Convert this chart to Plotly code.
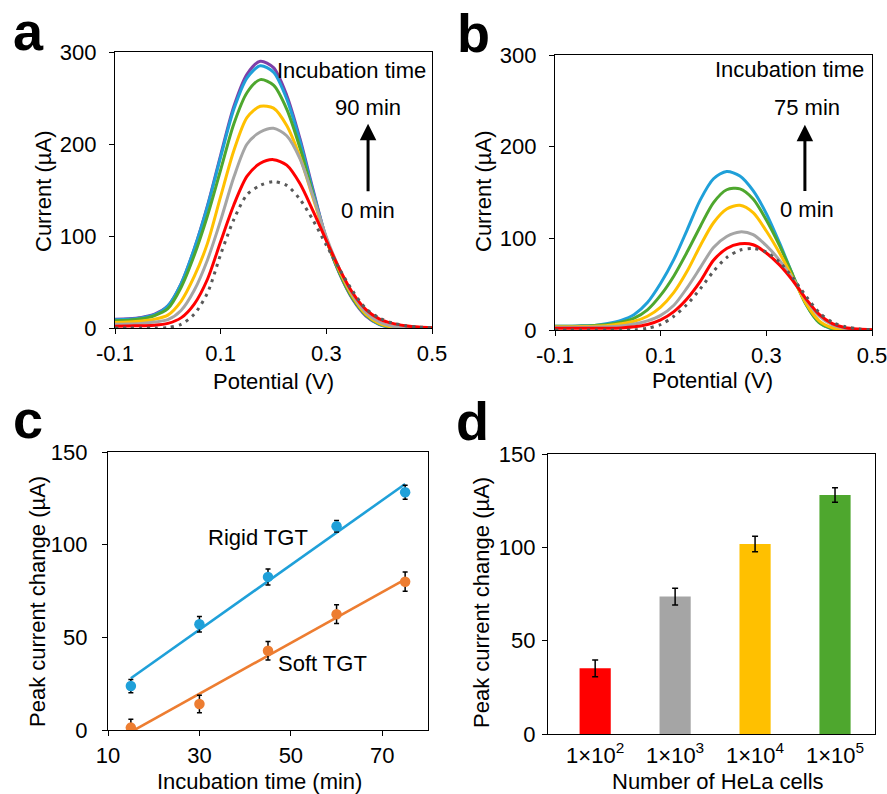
import numpy as np
import plotly.graph_objects as go

# ---------------- data ----------------
potential = [-0.1, -0.075, -0.05, -0.025, 0.0, 0.025, 0.05, 0.075, 0.1, 0.125, 0.15, 0.175,
             0.2, 0.225, 0.25, 0.275, 0.3, 0.325, 0.35, 0.375, 0.4, 0.425, 0.45, 0.475, 0.5]

# panel a (0 -> 90 min)
a_purple = [9.5, 10, 11.5, 15, 24, 48, 86, 133, 188, 241, 276, 290, 283, 253, 206, 150, 97, 59, 31, 13, 4, 0.5, 0, 0, 0]
a_blue   = [9, 9.5, 11, 14.5, 24, 48, 86, 132, 186, 238, 272, 285, 278, 249, 203, 148, 97, 60, 32, 14, 4, 0.5, 0, 0, 0]
a_green  = [8, 8.5, 10, 13.5, 21, 44, 79, 122, 172, 222, 256, 270, 264, 238, 196, 145, 96, 60, 32, 14, 4.5, 1, 0, 0, 0]
a_yellow = [6, 6.5, 7.5, 9.5, 14, 29, 56, 92, 143, 193, 229, 241, 239, 220, 186, 141, 97, 62, 34, 15, 5, 1, 0, 0, 0]
a_gray   = [4, 4.3, 5, 6.5, 9, 19, 41, 74, 117, 164, 200, 213, 217, 209, 184, 143, 99, 64, 36, 17, 6.5, 2, 0.5, 0, 0]
a_red    = [2, 2.2, 2.5, 3, 5, 11, 26, 53, 94, 134, 165, 179, 183, 177, 157, 127, 95, 64, 38, 20, 10, 5, 2.5, 1, 0.3]
a_dotted = [0, 0, 0, 0, 0.5, 4, 15, 38, 80, 118, 145, 155, 159, 155, 140, 117, 90, 64, 40, 21, 11, 5.5, 2.5, 1, 0.3]

# panel b (0 -> 75 min)
b_blue   = [4, 4, 4.5, 5, 7, 10.5, 17, 30, 51, 77, 109, 142, 165, 173, 168, 152, 127, 95, 60, 28, 8, 1, 0, 0, 0]
b_green  = [4, 4, 4.3, 5, 6, 8.5, 13, 22, 38, 59, 85, 113, 139, 153, 154, 143, 120, 92, 60, 28, 8, 1.5, 0, 0, 0]
b_yellow = [3.5, 3.5, 3.8, 4.2, 5, 6.8, 9.5, 15, 25, 41, 64, 92, 117, 132, 136, 128, 108, 84, 57, 29, 10, 2.5, 0.5, 0, 0]
b_gray   = [3, 3, 3, 3.2, 3.5, 4.5, 6.5, 10, 16, 27, 46, 68, 90, 102, 107, 104, 92, 76, 56, 33, 15, 5.5, 1.5, 0.5, 0]
b_red    = [2, 2, 2, 2, 2, 2.3, 3.5, 6, 11, 20, 34, 53, 76, 89, 94, 93, 84, 71, 54, 34, 17, 7, 2.5, 1, 0.3]
b_dotted = [0, 0, 0, 0, 0, 0, 0.3, 2, 6, 15, 28, 45, 64, 79, 87, 89, 85, 74, 57, 37, 19, 8.5, 3.5, 1.2, 0.3]

# panel c
incubation_time = [15, 30, 45, 60, 75]
rigid_change = [23.7, 57.1, 82.6, 109.9, 128.3]
rigid_err = [3.6, 4.2, 4.3, 3.1, 3.8]
soft_change = [1.3, 14.0, 42.8, 62.5, 80.0]
soft_err = [4.5, 4.7, 5.0, 5.1, 5.2]

# panel d
cell_labels = ["1×10<sup>2</sup>", "1×10<sup>3</sup>", "1×10<sup>4</sup>", "1×10<sup>5</sup>"]
cell_change = [35.2, 73.6, 101.8, 128.0]
cell_err = [4.5, 4.5, 4.2, 3.9]

# ---------------- style ----------------
W, H = 887, 794
FONT = "Liberation Sans, Arial, sans-serif"
FS = 22
C_PURPLE = "#7E3FA8"
C_BLUE = "#1FA0D9"
C_GREEN = "#4EA72E"
C_YELLOW = "#FFC000"
C_GRAY = "#A5A5A5"
C_RED = "#FF0000"
C_DOT = "#595959"
C_ORANGE = "#ED7D31"

def px(x):
    return x / W

def py(y):
    return 1 - y / H

fig = go.Figure()

def curve(x, y, color, xa, ya, dash=None):
    fig.add_trace(go.Scatter(x=x, y=y, mode="lines", xaxis=xa, yaxis=ya,
                             line=dict(color=color, width=3, shape="spline", smoothing=0.8,
                                       dash=dash if dash else "solid"),
                             hoverinfo="skip", showlegend=False))

for ys, c in [(a_purple, C_PURPLE), (a_blue, C_BLUE), (a_green, C_GREEN), (a_yellow, C_YELLOW),
              (a_gray, C_GRAY), (a_red, C_RED)]:
    curve(potential, ys, c, "x", "y")
curve(potential, a_dotted, C_DOT, "x", "y", dash="3px,5px")

for ys, c in [(b_blue, C_BLUE), (b_green, C_GREEN), (b_yellow, C_YELLOW),
              (b_gray, C_GRAY), (b_red, C_RED)]:
    curve(potential, ys, c, "x2", "y2")
curve(potential, b_dotted, C_DOT, "x2", "y2", dash="3px,5px")

# panel c: linear fits + points
t = np.array(incubation_time, dtype=float)
for ys, err, c in [(rigid_change, rigid_err, C_BLUE), (soft_change, soft_err, C_ORANGE)]:
    k, b0 = np.polyfit(t, np.array(ys), 1)
    xs = [t.min(), t.max()]
    fig.add_trace(go.Scatter(x=xs, y=[k * xs[0] + b0, k * xs[1] + b0], mode="lines",
                             xaxis="x3", yaxis="y3", line=dict(color=c, width=2.6),
                             hoverinfo="skip", showlegend=False))
    fig.add_trace(go.Scatter(x=incubation_time, y=ys, mode="markers", xaxis="x3", yaxis="y3",
                             marker=dict(color=c, size=10.5),
                             error_y=dict(type="data", array=err, color="black", thickness=1.5, width=2.5),
                             hoverinfo="skip", showlegend=False))

# panel d: bars
fig.add_trace(go.Bar(x=cell_labels, y=cell_change, xaxis="x4", yaxis="y4",
                     marker=dict(color=[C_RED, C_GRAY, C_YELLOW, C_GREEN], line=dict(width=0)),
                     width=0.39,
                     error_y=dict(type="data", array=cell_err, color="black", thickness=1.5, width=3),
                     hoverinfo="skip", showlegend=False))

tickfont = dict(family=FONT, size=FS, color="black")

def ax(domain, anchor, standoff=6, **kw):
    d = dict(domain=domain, anchor=anchor, showline=True, linecolor="black", linewidth=1.3,
             mirror=True, ticks="outside", ticklen=5, tickwidth=1.3, tickcolor="black",
             showgrid=False, zeroline=False, tickfont=tickfont, fixedrange=True,
             automargin=False, ticklabelstandoff=standoff, ticklabeloverflow="allow")
    d.update(kw)
    return d

pot_ticks = [-0.1, 0.1, 0.3, 0.5]
pot_text = ["-0.1", "0.1", "0.3", "0.5"]

fig.update_layout(
    width=W, height=H, margin=dict(l=0, r=0, t=0, b=0, autoexpand=False),
    paper_bgcolor="white", plot_bgcolor="white",
    font=dict(family=FONT, color="black"),
    xaxis=ax([px(115), px(432)], "y", standoff=0, range=[-0.1, 0.5], tickvals=pot_ticks, ticktext=pot_text),
    yaxis=ax([py(328), py(52)], "x", standoff=8, range=[0, 300], tickvals=[0, 100, 200, 300]),
    xaxis2=ax([px(555), px(872)], "y2", standoff=0, range=[-0.1, 0.5], tickvals=pot_ticks, ticktext=pot_text),
    yaxis2=ax([py(330), py(55)], "x2", standoff=8, range=[0, 300], tickvals=[0, 100, 200, 300]),
    xaxis3=ax([px(108), px(428)], "y3", standoff=0, range=[10, 80], tickvals=[10, 30, 50, 70]),
    yaxis3=ax([py(730), py(452)], "x3", standoff=10, range=[0, 150], tickvals=[0, 50, 100, 150]),
    xaxis4=ax([px(548), px(875)], "y4", standoff=1, type="category", range=[-0.59, 3.5], ticks=""),
    yaxis4=ax([py(734), py(454)], "x4", standoff=2, range=[0, 150], tickvals=[0, 50, 100, 150]),
)

ann = []
# panel letters
for letter, x, y in [("a", 28, 31), ("b", 473, 33), ("c", 28, 419), ("d", 472, 421)]:
    ann.append(dict(text=f"<b>{letter}</b>", x=px(x), y=py(y), xref="paper", yref="paper",
                    xanchor="center", yanchor="middle", showarrow=False,
                    font=dict(family=FONT, size=54, color="black")))

txt = dict(family=FONT, size=FS, color="black")

# axis titles (placed as text in paper coordinates)
for text, x, y, ang in [
    ("Potential (V)", 273, 381, 0), ("Current (µA)", 43, 192, -90),
    ("Potential (V)", 712, 380, 0), ("Current (µA)", 483, 192, -90),
    ("Incubation time (min)", 259, 781, 0), ("Peak current change (µA)", 37, 602, -90),
    ("Number of HeLa cells", 718, 781, 0), ("Peak current change (µA)", 481, 602, -90),
]:
    ann.append(dict(text=text, x=px(x), y=py(y), xref="paper", yref="paper", xanchor="center",
                    yanchor="middle", textangle=ang, showarrow=False, font=txt))

# panel a texts
ann += [
    dict(text="Incubation time", x=0.4925, y=280, xref="x", yref="y", xanchor="right", yanchor="middle",
         showarrow=False, font=txt),
    dict(text="90 min", x=0.379, y=240, xref="x", yref="y", xanchor="center", yanchor="middle",
         showarrow=False, font=txt),
    dict(text="0 min", x=0.379, y=128, xref="x", yref="y", xanchor="center", yanchor="middle",
         showarrow=False, font=txt),
    dict(text="", x=0.379, y=222, ax=0.379, ay=147, xref="x", yref="y", axref="x", ayref="y",
         showarrow=True, arrowhead=2, arrowsize=1.1, arrowwidth=3, arrowcolor="black"),
]
# panel b texts
ann += [
    dict(text="Incubation time", x=0.4887, y=284, xref="x2", yref="y2", xanchor="right", yanchor="middle",
         showarrow=False, font=txt),
    dict(text="75 min", x=0.3765, y=243, xref="x2", yref="y2", xanchor="center", yanchor="middle",
         showarrow=False, font=txt),
    dict(text="0 min", x=0.3765, y=131, xref="x2", yref="y2", xanchor="center", yanchor="middle",
         showarrow=False, font=txt),
    dict(text="", x=0.373, y=224, ax=0.373, ay=150, xref="x2", yref="y2", axref="x2", ayref="y2",
         showarrow=True, arrowhead=2, arrowsize=1.1, arrowwidth=3, arrowcolor="black"),
]
# panel c texts
ann += [
    dict(text="Rigid TGT", x=42.8, y=103.6, xref="x3", yref="y3", xanchor="center", yanchor="middle",
         showarrow=False, font=txt),
    dict(text="Soft TGT", x=57.0, y=36, xref="x3", yref="y3", xanchor="center", yanchor="middle",
         showarrow=False, font=txt),
]
fig.update_layout(annotations=ann)

# remove the browser's default 8px page margin so the figure sits at the window origin
fig.write_html("out.html", config={"displayModeBar": False},
               post_script="document.body.style.margin='0px';")
